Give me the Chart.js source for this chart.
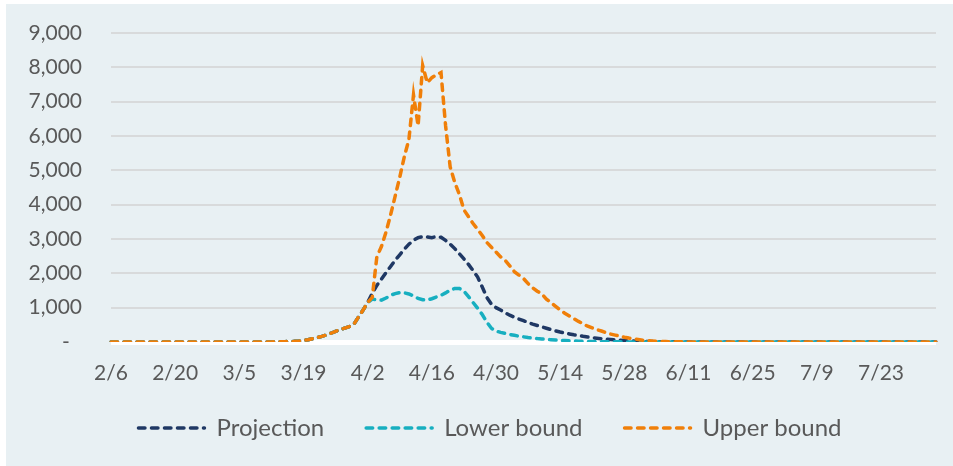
<!DOCTYPE html>
<html>
<head>
<meta charset="utf-8">
<script src="https://cdn.jsdelivr.net/npm/chart.js@4/dist/chart.umd.min.js"></script>
<style>
html,body{margin:0;padding:0;background:#ffffff;}
#wrap{position:absolute;left:6px;top:4px;width:947px;height:462px;background:#E8F0F3;}
canvas{display:block;}
</style>
</head>
<body>
<div id="wrap"><canvas id="c" width="947" height="462"></canvas></div>
<script>
// Daily categories from 2/6 to 8/4 (2020)
const startMonth = 2, startDay = 6, numDays = 181;
const categories = [];
(function(){
  const d = new Date(2020, startMonth - 1, startDay);
  for (let i = 0; i < numDays; i++) {
    categories.push((d.getMonth() + 1) + '/' + d.getDate());
    d.setDate(d.getDate() + 1);
  }
})();

const tickLabels = ['2/6','2/20','3/5','3/19','4/2','4/16','4/30','5/14','5/28','6/11','6/25','7/9','7/23'];
const yTicks = [0,1000,2000,3000,4000,5000,6000,7000,8000,9000];

const projection = [
  0,0,0,0,0,0,0,0,0,0, 0,0,0,0,0,0,0,0,0,0, 0,0,0,0,0,0,0,0,0,0, 0,0,0,0,
  2,3,5,7,10,14,20,30,45,65,95,130,165,205,255,310,360,405,450,520,730,930,1150,
  1420,1650,1830,2020,2200,2380,2540,2700,2850,2960,
  3040,3070,3060,3040,3070,3050,2960,2850,2720,2570,
  2420,2260,2080,1890,1600,1300,1100,1000,930,850,
  780,720,670,620,570,520,480,440,400,360,
  325,290,260,235,210,190,165,145,125,110,
  95,82,70,60,50,42,35,29,24,20,
  16,13,11,9,7,6,5,4,3,3,
  2,2,1,1,1,1,0,0,0,0,
  0,0,0,0,0,0,0,0,0,0, 0,0,0,0,0,0,0,0,0,0, 0,0,0,0,0,0,0,0,0,0, 0,0,0,0,0,0,0,0,0,0, 0,0,0,0
];

const lowerBound = [
  0,0,0,0,0,0,0,0,0,0, 0,0,0,0,0,0,0,0,0,0, 0,0,0,0,0,0,0,0,0,0, 0,0,0,0,
  2,3,5,7,10,14,20,30,45,65,95,130,165,205,255,310,360,405,450,520,730,930,1150,
  1250,1230,1220,1280,1360,1410,1440,1430,1400,1340,
  1270,1230,1220,1260,1310,1360,1430,1510,1560,1560,
  1480,1320,1150,980,800,580,400,320,280,250,
  220,195,170,150,130,115,100,88,76,66,
  57,49,42,36,30,25,21,17,14,11,
  9,7,6,5,4,3,2,2,1,1,
  0,0,0,0,0,0,0,0,0,0,
  0,0,0,0,0,0,0,0,0,0,
  0,0,0,0,0,0,0,0,0,0, 0,0,0,0,0,0,0,0,0,0, 0,0,0,0,0,0,0,0,0,0, 0,0,0,0,0,0,0,0,0,0, 0,0,0,0
];

const upperBound = [
  0,0,0,0,0,0,0,0,0,0, 0,0,0,0,0,0,0,0,0,0, 0,0,0,0,0,0,0,0,0,0, 0,0,0,0,
  2,3,5,7,10,14,20,30,45,65,95,130,165,205,255,310,360,405,450,520,730,930,1150,
  1300,2480,2780,3200,3700,4250,4800,5400,5900,7200,
  6300,8050,7550,7700,7780,7850,6300,5100,4650,4300,
  3850,3650,3450,3280,3100,2900,2760,2620,2480,2380,
  2220,2050,1950,1850,1700,1580,1480,1400,1250,1150,
  1040,930,840,760,680,600,530,460,410,360,
  320,270,230,200,170,140,115,95,75,50,
  38,28,20,15,11,8,6,5,4,3,
  2,2,1,1,1,1,0,0,0,0,
  0,0,0,0,0,0,0,0,0,0, 0,0,0,0,0,0,0,0,0,0, 0,0,0,0,0,0,0,0,0,0, 0,0,0,0,0,0,0,0,0,0, 0,0,0,0
];

const seriesNames = ['Projection', 'Lower bound', 'Upper bound'];
const seriesColors = ['#1F3864', '#17AFC0', '#F07F09'];
const DASH = [6.5, 6.5];
const LINE_W = 3.5;

const FONT = "Lato, 'Open Sans', sans-serif";
const TEXT = '#595959';

function ds(label, data, color, order) {
  return {
    label, data, order,
    borderColor: color,
    backgroundColor: color,
    borderWidth: LINE_W,
    borderDash: DASH,
    borderCapStyle: 'round',
    pointRadius: 0,
    pointHoverRadius: 0,
    tension: 0,
    fill: false
  };
}

// Moves the legend box to match the reference placement
const legendPlace = {
  id: 'legendPlace',
  afterLayout(chart) {
    const l = chart.legend;
    if (!l) return;
    l.left += 19; l.right += 19;
    l.top -= 11; l.bottom -= 11;
  }
};

new Chart(document.getElementById('c'), {
  type: 'line',
  data: {
    labels: categories,
    datasets: [
      ds(seriesNames[0], projection, seriesColors[0], 3),
      ds(seriesNames[1], lowerBound, seriesColors[1], 2),
      ds(seriesNames[2], upperBound, seriesColors[2], 1)
    ]
  },
  plugins: [legendPlace],
  options: {
    responsive: false,
    animation: false,
    layout: { padding: { top: 29, right: 17, bottom: 5, left: 0 } },
    plugins: {
      tooltip: { enabled: false },
      legend: {
        position: 'bottom',
        labels: {
          usePointStyle: true,
          pointStyle: 'line',
          pointStyleWidth: 66,
          padding: 42,
          color: TEXT,
          font: { family: FONT, size: 24 },
          sort: (a, b) => a.datasetIndex - b.datasetIndex,
          generateLabels: (chart) => {
            const items = Chart.defaults.plugins.legend.labels.generateLabels(chart);
            return items.map(it => Object.assign(it, {
              lineDash: DASH,
              lineCap: 'round',
              lineWidth: LINE_W,
              strokeStyle: seriesColors[it.datasetIndex],
              fillStyle: seriesColors[it.datasetIndex],
              pointStyle: 'line',
              fontColor: TEXT
            }));
          }
        }
      }
    },
    scales: {
      x: {
        type: 'category',
        offset: false,
        grid: {
          display: true,
          drawOnChartArea: false,
          drawTicks: true,
          tickLength: 19,
          color: 'rgba(0,0,0,0)',
          tickColor: 'rgba(0,0,0,0)'
        },
        border: { display: false },
        ticks: {
          autoSkip: false,
          maxRotation: 0,
          minRotation: 0,
          padding: 0,
          color: TEXT,
          font: { family: FONT, size: 21 },
          callback: function(value) {
            const lbl = this.getLabelForValue(value);
            return tickLabels.includes(lbl) ? lbl : '';
          }
        },
        afterFit: (s) => { s.height = 43; }
      },
      y: {
        min: yTicks[0],
        max: yTicks[yTicks.length - 1],
        grid: {
          drawTicks: true,
          tickLength: 29,
          tickColor: 'rgba(0,0,0,0)',
          color: (c) => c.tick && c.tick.value === 0 ? '#FFFFFF' : '#D8DADB',
          lineWidth: (c) => c.tick && c.tick.value === 0 ? 5 : 2
        },
        border: { display: false },
        ticks: {
          stepSize: 1000,
          padding: 0,
          color: TEXT,
          font: { family: FONT, size: 21 },
          callback: (v) => v === 0 ? '-\u2007' : v.toLocaleString('en-US')
        },
        afterFit: (s) => { s.width = 105; }
      }
    }
  }
});
</script>
</body>
</html>
